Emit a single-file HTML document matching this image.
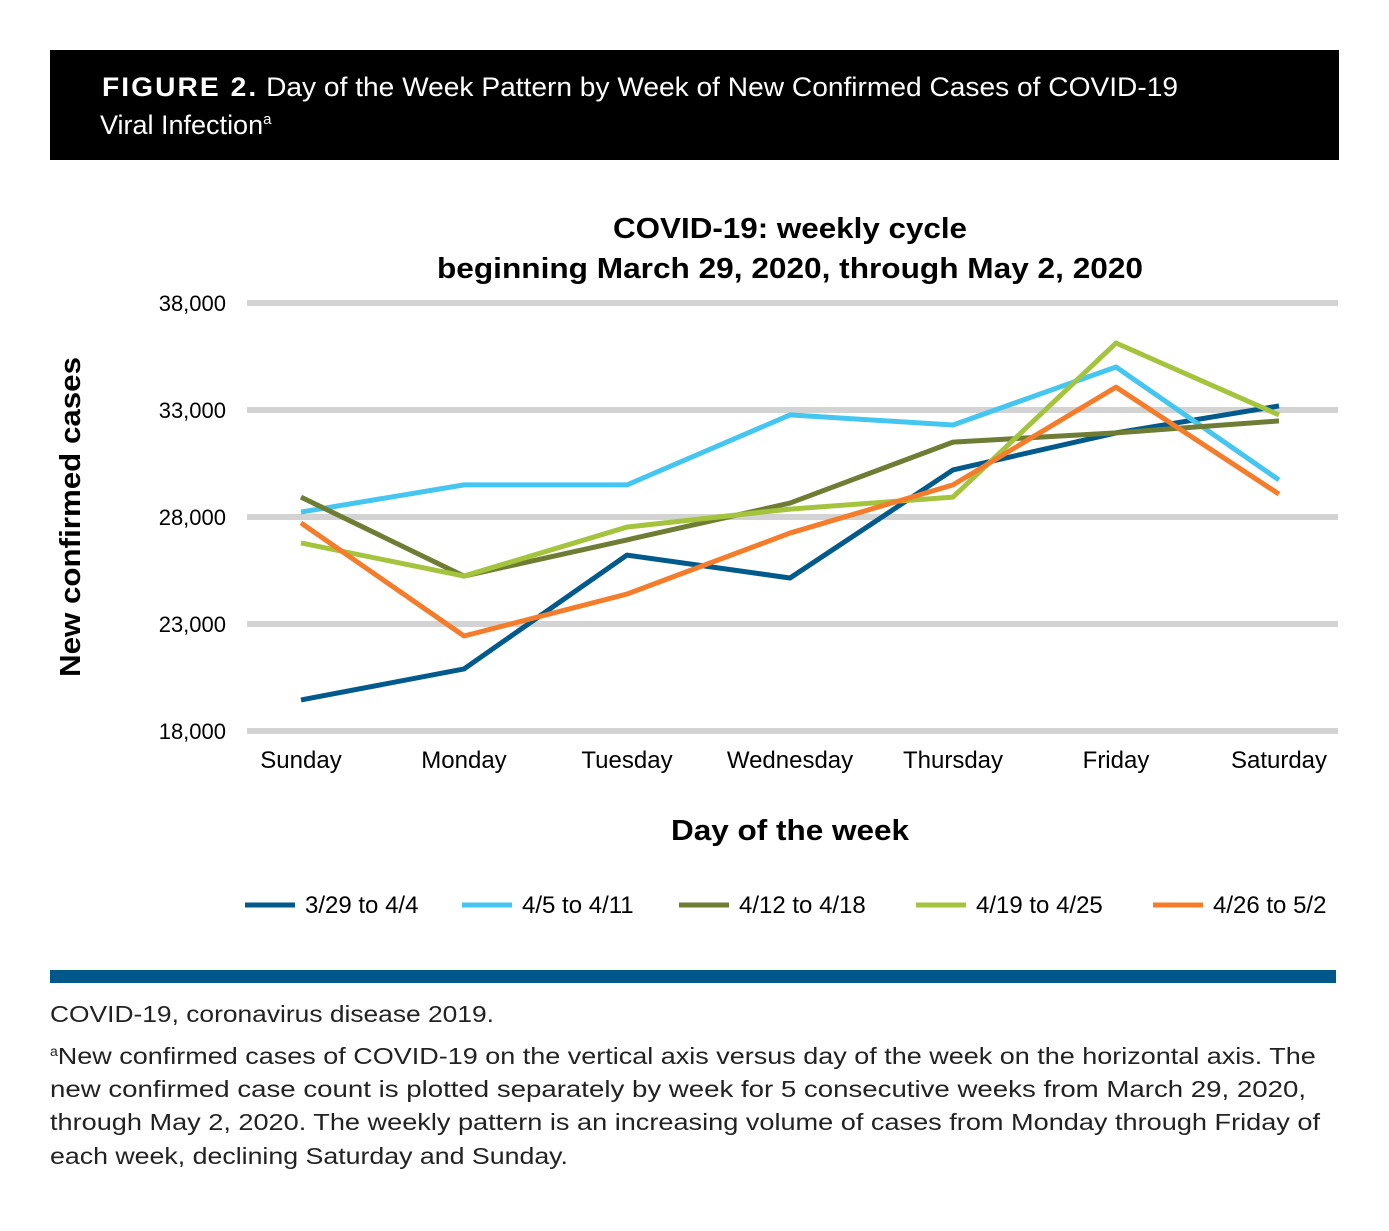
<!DOCTYPE html>
<html><head><meta charset="utf-8"><style>
body{margin:0;background:#fff}
svg{display:block;font-family:"Liberation Sans Narrow","Liberation Sans",sans-serif}
</style></head><body>
<svg width="1389" height="1231" viewBox="0 0 1389 1231">
<rect x="50" y="50" width="1289" height="110" fill="#000"/>
<text x="102" y="96" fill="#fff" font-size="27" textLength="1076" lengthAdjust="spacingAndGlyphs"><tspan font-weight="bold" letter-spacing="2">FIGURE 2.</tspan> Day of the Week Pattern by Week of New Confirmed Cases of COVID-19</text>
<text x="100" y="134" fill="#fff" font-size="27">Viral Infection<tspan font-size="15" dy="-10">a</tspan></text>
<text x="790" y="238" text-anchor="middle" font-size="29" font-weight="bold" textLength="354" lengthAdjust="spacingAndGlyphs">COVID-19: weekly cycle</text>
<text x="790" y="278" text-anchor="middle" font-size="29" font-weight="bold" textLength="706" lengthAdjust="spacingAndGlyphs">beginning March 29, 2020, through May 2, 2020</text>
<g id="grid"></g><g id="yt"></g><g id="xt"></g><g id="lines"></g>
<text transform="translate(80,517) rotate(-90)" text-anchor="middle" font-size="29" font-weight="bold" textLength="320" lengthAdjust="spacingAndGlyphs">New confirmed cases</text>
<text x="790" y="840" text-anchor="middle" font-size="29" font-weight="bold" textLength="238" lengthAdjust="spacingAndGlyphs">Day of the week</text>
<g id="legend"></g>
<rect x="50" y="970" width="1286" height="13" fill="#00578a"/>
<g font-size="23" fill="#222">
<text x="50" y="1022" textLength="444" lengthAdjust="spacingAndGlyphs">COVID-19, coronavirus disease 2019.</text>
<text x="50" y="1064"><tspan font-size="14" dy="-8">a</tspan><tspan dy="8" textLength="1258" lengthAdjust="spacingAndGlyphs">New confirmed cases of COVID-19 on the vertical axis versus day of the week on the horizontal axis. The</tspan></text>
<text x="50" y="1097" textLength="1256" lengthAdjust="spacingAndGlyphs">new confirmed case count is plotted separately by week for 5 consecutive weeks from March 29, 2020,</text>
<text x="50" y="1130" textLength="1270" lengthAdjust="spacingAndGlyphs">through May 2, 2020. The weekly pattern is an increasing volume of cases from Monday through Friday of</text>
<text x="50" y="1164" textLength="518" lengthAdjust="spacingAndGlyphs">each week, declining Saturday and Sunday.</text>
</g>
</svg>
<script>
const days=["Sunday","Monday","Tuesday","Wednesday","Thursday","Friday","Saturday"];
const yTicks=[18000,23000,28000,33000,38000];
const seriesNames=["3/29 to 4/4","4/5 to 4/11","4/12 to 4/18","4/19 to 4/25","4/26 to 5/2"];
const colors=["#005a8c","#45c6f0","#6e7d33","#a5c43e","#f47c2a"];
const s1=[19450,20900,26220,25150,30200,31930,33190];
const s2=[28230,29500,29500,32770,32300,35010,29730];
const s3=[28930,25240,26930,28650,31500,31930,32490];
const s4=[26790,25240,27530,28370,28930,36130,32770];
const s5=[27720,22440,24400,27250,29500,34070,29070];
const series=[s1,s2,s3,s4,s5];
const NS="http://www.w3.org/2000/svg";
const y=v=>731-(v-18000)*428/20000;
const x=i=>301+i*163;
function mk(tag,attrs,parent){const e=document.createElementNS(NS,tag);for(const k in attrs)e.setAttribute(k,attrs[k]);document.getElementById(parent).appendChild(e);return e;}
yTicks.forEach(v=>{
  const g=mk("line",{x1:247,x2:1338,y1:y(v),y2:y(v),stroke:"#d3d3d3","stroke-width":6},"grid");
  
  
  const t=mk("text",{x:226,y:y(v)+8,"text-anchor":"end","font-size":22},"yt");
  t.textContent=v.toLocaleString("en-US");
  
  
});
days.forEach((d,i)=>{
  const t=mk("text",{x:x(i),y:768,"text-anchor":"middle","font-size":24},"xt");
  t.textContent=d;
  
  
});
series.forEach((s,k)=>{
  const p=mk("polyline",{points:s.map((v,i)=>x(i)+","+y(v)).join(" "),fill:"none",stroke:colors[k],"stroke-width":5,"stroke-linejoin":"round"},"lines");
  
  
});
const lx=[245,462,679,916,1153];
seriesNames.forEach((n,k)=>{
  const l=mk("line",{x1:lx[k],x2:lx[k]+50,y1:905,y2:905,stroke:colors[k],"stroke-width":5},"legend");
  
  
  const t=mk("text",{x:lx[k]+60,y:913,"font-size":24},"legend");
  t.textContent=n;
  
  
});
</script>
</body></html>
